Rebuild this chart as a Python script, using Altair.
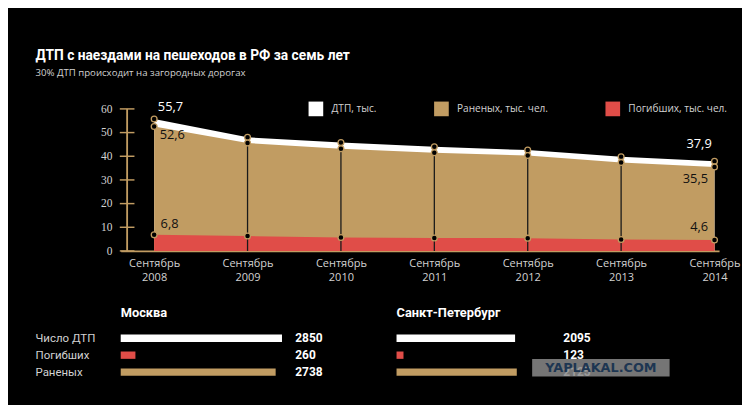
import altair as alt
import pandas as pd

# ---------------- data ----------------
years = [2008, 2009, 2010, 2011, 2012, 2013, 2014]
dtp = [55.7, 48.0, 45.8, 44.0, 42.6, 39.8, 37.9]
injured = [52.6, 45.6, 43.2, 41.5, 40.3, 37.4, 35.5]
killed = [6.8, 6.3, 5.7, 5.5, 5.4, 4.8, 4.6]
series = ["ДТП, тыс.", "Раненых, тыс. чел.", "Погибших, тыс. чел."]
y_ticks = [0, 10, 20, 30, 40, 50, 60]
month = "Сентябрь"

cities = ["Москва", "Санкт-Петербург"]
rows = ["Число ДТП", "Погибших", "Раненых"]
moscow = [2850, 260, 2738]
spb = [2095, 123, 2125]

title = "ДТП с наездами на пешеходов в РФ  за семь лет"
subtitle = "30% ДТП происходит на загородных дорогах"
watermark = "YAPLAKAL.COM"

# ---------------- styles ----------------
WHITE = "#ffffff"
TAN = "#c19c62"
RED = "#e04d48"
GRAY = "#d2d2d2"
colors = [WHITE, TAN, RED]
row_colors = [WHITE, RED, TAN]

df = pd.DataFrame({"year": years, "dtp": dtp, "inj": injured, "kill": killed})
base = alt.Chart(df)

# x domain starts a little before the first year so the baseline reaches the axis
xscale = alt.Scale(domain=[2007.691, 2014], nice=False, zero=False)
yscale = alt.Scale(domain=[0, 60], nice=False, zero=True)
cscale = alt.Scale(domain=series, range=colors)
legend = alt.Legend(
    orient="none", legendX=205, legendY=-8, direction="horizontal", title=None,
    symbolType="square", symbolSize=256, symbolStrokeWidth=0, symbolOpacity=1,
    labelFont="Open Sans", labelFontSize=11, labelColor=GRAY, labelOffset=9,
    columnPadding=62, padding=0,
)

x_enc = alt.X(
    "year:Q", scale=xscale, title=None,
    axis=alt.Axis(
        values=years, format="d", labelExpr=f"['{month}', datum.label]",
        domain=True, domainColor=TAN, domainWidth=2, ticks=False, grid=False,
        labelPadding=8, labelFont="Open Sans", labelFontSize=12, labelColor=GRAY,
        labelLineHeight=15,
    ),
)


def series_area(field, idx):
    return base.transform_calculate(s=f"'{series[idx]}'").mark_area(opacity=1).encode(
        x=x_enc if idx == 0 else alt.X("year:Q", title=None),
        y=alt.Y(f"{field}:Q", scale=yscale if idx == 0 else alt.Undefined,
                title=None, stack=None, axis=None),
        color=alt.Color("s:N", scale=cscale, legend=legend),
    )


area_total = series_area("dtp", 0)
area_inj = series_area("inj", 1)
area_kill = series_area("kill", 2)

# y axis: tan line, crossing tick marks and labels, drawn through the y scale
ax_df = pd.DataFrame({"t": y_ticks})
ax_line = alt.Chart(ax_df).mark_line(color=TAN, strokeWidth=2).encode(
    x=alt.value(7), y=alt.Y("t:Q", axis=None, title=None))
tick_marks = alt.Chart(ax_df).mark_tick(
    color=TAN, thickness=1.6, size=16, orient="horizontal", opacity=1
).encode(x=alt.value(7), y=alt.Y("t:Q", axis=None, title=None))
tick_labels = alt.Chart(ax_df).mark_text(
    align="right", baseline="middle", font="Liberation Sans Narrow", fontSize=12.5, color=GRAY
).encode(x=alt.value(-9), y=alt.Y("t:Q", axis=None, title=None), text="t:Q")

vlines = base.transform_filter(
    (alt.datum.year > years[0]) & (alt.datum.year < years[-1])
).mark_bar(color="#1a1a1a", width=1.4).encode(
    x=alt.X("year:Q", title=None), y=alt.Y("dtp:Q", title=None, stack=None, axis=None)
)

points = base.transform_fold(["dtp", "inj", "kill"], as_=["k", "v"]).mark_circle(
    fill="black", stroke=TAN, strokeWidth=1.4, size=40, opacity=1
).encode(x=alt.X("year:Q", title=None), y=alt.Y("v:Q", title=None, axis=None))


def lab(field, yr, color, align, dx, dy):
    return base.transform_filter(alt.datum.year == yr).transform_calculate(
        t=f"replace(format(datum.{field}, '.1f'), '.', ',')"
    ).mark_text(
        align=align, baseline="middle", dx=dx, dy=dy,
        font="Open Sans", fontSize=14, color=color,
    ).encode(x=alt.X("year:Q", title=None), y=alt.Y(f"{field}:Q", title=None, axis=None),
             text="t:N")


labels = [
    lab("dtp", years[0], WHITE, "left", 4, -13),
    lab("inj", years[0], "#111111", "left", 6, 10),
    lab("kill", years[0], "#111111", "left", 7, -12),
    lab("dtp", years[-1], WHITE, "right", -3, -18),
    lab("inj", years[-1], "#111111", "right", -7, 14),
    lab("kill", years[-1], "#111111", "right", -7, -14),
]

main = alt.layer(area_total, area_inj, area_kill, ax_line, tick_marks, tick_labels,
                 vlines, points, *labels).properties(width=653, height=155)


# ---------------- bottom city bars ----------------
PX_PER_UNIT = 176 / 2850  # bar length of the largest value


def city_chart(vals, name, width, text_x, show_rows, extra=()):
    d = pd.DataFrame({"row": rows, "v": vals})
    xs = alt.Scale(domain=[0, width / PX_PER_UNIT], nice=False, zero=True)
    ys = alt.Scale(domain=rows, paddingInner=0, paddingOuter=0)
    b = alt.Chart(d)
    layers = []
    for i, (r, c) in enumerate(zip(rows, row_colors)):
        layers.append(b.transform_filter(alt.datum.row == r).mark_bar(height=8, color=c).encode(
            x=alt.X("v:Q", scale=xs, axis=None, title=None, stack=None),
            y=alt.Y("row:N", scale=ys if i == 0 else alt.Undefined, axis=None,
                    title=None, sort=rows),
        ))
    vt = b.mark_text(align="left", baseline="middle", font="Roboto",
                     fontWeight="bold", fontSize=13, color=WHITE).encode(
        x=alt.value(text_x), y=alt.Y("row:N", axis=None, title=None, sort=rows), text="v:Q")
    layers.append(vt)
    if show_rows:
        rl = b.mark_text(align="left", baseline="middle", font="Roboto",
                         fontSize=12.5, color=GRAY).encode(
            x=alt.value(-93), y=alt.Y("row:N", axis=None, title=None, sort=rows),
            text="row:N")
        layers.append(rl)
    layers.extend(extra)
    return alt.layer(*layers).properties(
        width=width, height=55.5,
        title=alt.TitleParams(name, anchor="start", frame="group", offset=11,
                              font="Roboto", fontSize=14, fontWeight="bold", color=WHITE),
    )


wm_df = pd.DataFrame({"t": [watermark]})
wm_box = alt.Chart(wm_df).mark_rect(color="#8a8a8a", opacity=0.85).encode(
    x=alt.value(148), x2=alt.value(298), y=alt.value(32), y2=alt.value(51))
wm_text = alt.Chart(wm_df).mark_text(
    font="DejaVu Sans", fontWeight="bold", fontSize=14, color="#1d3652",
    align="center", baseline="middle").encode(
    x=alt.value(223), y=alt.value(42), text="t:N")

mos_chart = city_chart(moscow, cities[0], 301, 190.5, True)
spb_chart = city_chart(spb, cities[1], 290, 182, False, extra=(wm_box, wm_text))

chart = alt.vconcat(
    main,
    alt.hconcat(mos_chart, spb_chart, spacing=0),
    spacing=27,
).properties(
    padding={"left": 30, "top": 26, "right": 2, "bottom": 8},
    background="#000000",
    title=alt.TitleParams(
        text=title, subtitle=subtitle, anchor="start", offset=25,
        font="Roboto", fontSize=15, fontWeight="bold", color=WHITE,
        subtitleFont="Open Sans", subtitleFontSize=10.5, subtitleColor=GRAY, subtitlePadding=6,
    ),
).configure_view(stroke=None)

chart.save("out.html", embed_options={"renderer": "svg", "actions": False})
